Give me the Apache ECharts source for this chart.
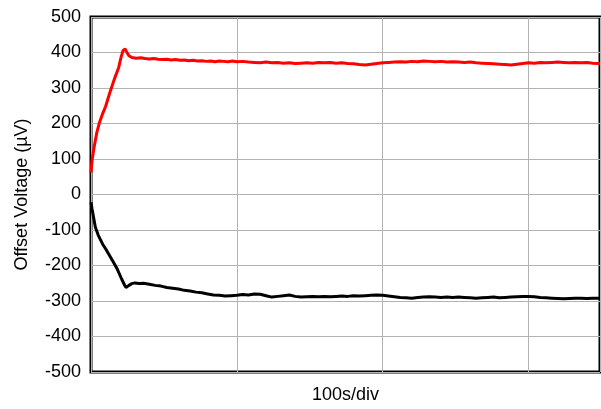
<!DOCTYPE html>
<html>
<head>
<meta charset="utf-8">
<script src="https://cdn.jsdelivr.net/npm/echarts@6/dist/echarts.min.js"></script>
<style>
  html, body { margin: 0; padding: 0; background: #fff; }
  #chart { width: 601px; height: 409px; }
</style>
</head>
<body>
<div id="chart"></div>
<script>
// 数据 (读自参考图)
const redTime = [0, 0.7, 2, 4, 6, 8, 10, 13, 16, 19, 20.5, 22, 22.7, 23.4, 24.5, 26, 28, 31, 34, 37,
  40, 43, 46, 49, 52, 55, 58, 61, 64, 67, 70, 73, 76, 79, 82, 85, 88, 91, 94, 97,
  100, 104, 108, 112, 116, 120, 124, 128, 132, 136, 140, 144, 148, 152, 156, 160, 164, 168, 172, 176,
  180, 184, 188, 192, 196, 200, 204, 208, 212, 216, 220, 224, 228, 232, 236, 240, 244, 248, 252, 256,
  260, 264, 268, 272, 276, 280, 284, 288, 292, 296, 300, 304, 308, 312, 316, 320, 324, 328, 332, 336,
  340, 344, 349]
const redVolt = [62, 95, 130, 175, 205, 228, 248, 288, 325, 358, 385, 406, 411, 410, 401, 391, 386, 384, 385, 383,
  382, 383, 381, 380, 381, 379, 380, 378, 379, 377, 378, 376, 377, 375, 376, 374, 376, 375, 374, 376,
  374, 375, 373, 372, 371, 373, 371, 372, 370, 371, 369, 370, 371, 370, 372, 371, 372, 370, 371, 369,
  368, 366, 365, 367, 369, 371, 372, 373, 374, 373, 375, 374, 376, 375, 374, 375, 373, 374, 373, 372,
  373, 371, 370, 369, 368, 367, 366, 365, 367, 369, 371, 370, 372, 371, 372, 373, 372, 371, 372, 371,
  372, 370, 369]

const blackTime = [0, 0.7, 2, 3, 5, 8, 10, 12, 15, 18, 21, 23, 24, 25, 26, 28, 30, 33, 36,
  40, 44, 48, 52, 56, 60, 64, 68, 72, 76, 80, 84, 88, 92, 96,
  100, 104, 108, 112, 116, 120, 124, 128, 132, 136, 140, 144, 148, 152, 156, 160, 164, 168, 172, 176,
  180, 184, 188, 192, 196, 200, 204, 208, 212, 216, 220, 224, 228, 232, 236, 240, 244, 248, 252, 256,
  260, 264, 268, 272, 276, 280, 284, 288, 292, 296, 300, 304, 308, 312, 316, 320, 324, 328, 332, 336,
  340, 344, 349]
const blackVolt = [-22, -40, -70, -92, -115, -140, -153, -167, -188, -210, -238, -255, -262, -261, -256, -251, -249, -251, -250,
  -253, -256, -258, -262, -264, -266, -270, -272, -275, -277, -280, -283, -284, -286, -285,
  -284, -282, -283, -280, -281, -285, -289, -287, -285, -283, -287, -289, -288, -287, -288, -287, -288, -287, -286, -287,
  -285, -286, -285, -284, -283, -284, -286, -288, -290, -291, -292, -290, -289, -288, -289, -290, -289, -290, -289, -290,
  -291, -292, -291, -290, -289, -291, -290, -289, -288, -287, -287, -288, -290, -291, -292, -293, -294, -293, -292, -292,
  -293, -292, -292]

const yTicks = [-500, -400, -300, -200, -100, 0, 100, 200, 300, 400, 500]

const pairs = (t, v) => t.map((x, i) => [x, v[i]])

const chart = echarts.init(document.getElementById('chart'))

const option = {
  animation: false,
  backgroundColor: '#fff',
  textStyle: {fontFamily: 'Liberation Sans, Arial, sans-serif'},
  grid: {
    left: 91,
    right: 1,
    top: 17,
    bottom: 31,
    show: true,
    borderColor: '#000',
    borderWidth: 3
  },
  xAxis: {
    type: 'value',
    min: 0,
    max: 349,
    interval: 100,
    name: '100s/div',
    nameLocation: 'middle',
    nameGap: 14,
    nameTextStyle: {fontSize: 18, color: '#000', verticalAlign: 'top'},
    axisLine: {show: false},
    axisTick: {show: false},
    axisLabel: {show: false},
    splitLine: {lineStyle: {color: '#b3b3b3', width: 1}}
  },
  yAxis: {
    type: 'value',
    min: yTicks[0],
    max: yTicks[yTicks.length - 1],
    interval: 100,
    name: 'Offset Voltage (µV)',
    nameLocation: 'middle',
    nameGap: 60,
    nameTextStyle: {fontSize: 18, color: '#000'},
    axisLine: {show: false},
    axisTick: {show: false},
    axisLabel: {fontSize: 18, color: '#000', margin: 10},
    splitLine: {lineStyle: {color: '#b3b3b3', width: 1}}
  },
  series: [
    {
      name: 'red',
      type: 'line',
      data: pairs(redTime, redVolt),
      showSymbol: false,
      lineStyle: {color: '#ff0000', width: 3}
    },
    {
      name: 'black',
      type: 'line',
      data: pairs(blackTime, blackVolt),
      showSymbol: false,
      lineStyle: {color: '#000', width: 3}
    }
  ]
}

chart.setOption(option)
</script>
</body>
</html>
